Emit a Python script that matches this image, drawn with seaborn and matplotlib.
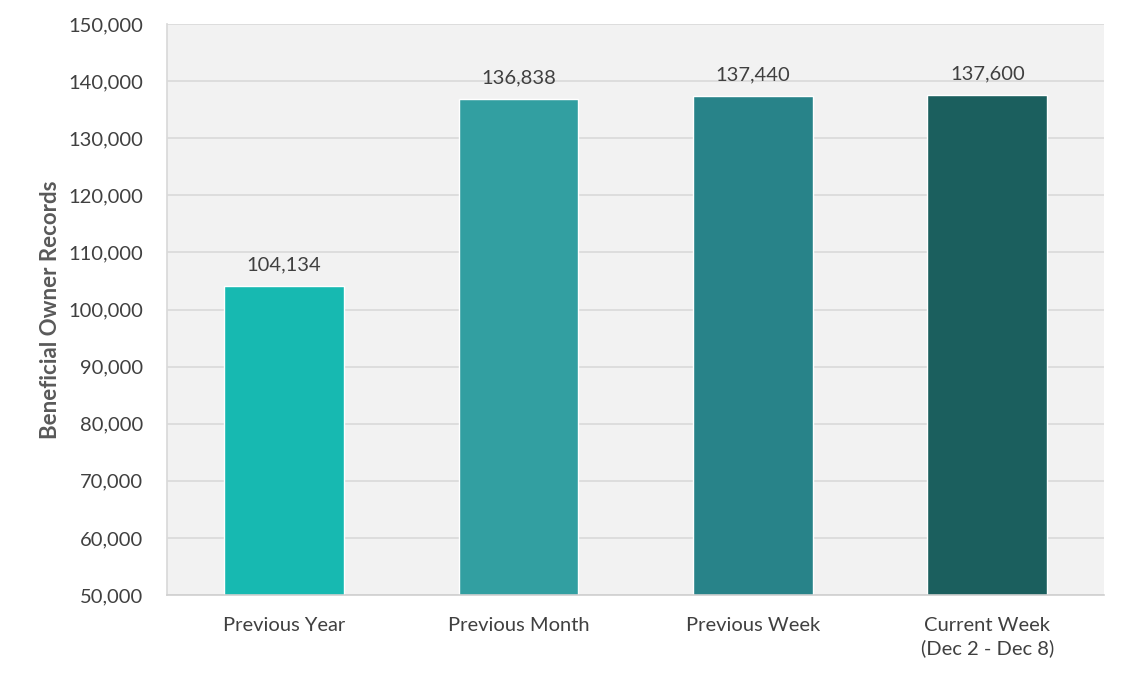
import matplotlib
matplotlib.use("Agg")
import matplotlib.pyplot as plt
import seaborn as sns
import pandas as pd
from matplotlib.ticker import FuncFormatter

categories = ["Previous Year", "Previous Month", "Previous Week", "Current Week\n(Dec 2 - Dec 8)"]
records = [104134, 136838, 137440, 137600]
bar_colors = ["#17B9B1", "#329FA1", "#288389", "#1B5F5E"]

sns.set_theme(style="white")
plt.rcParams["font.family"] = ["Lato", "DejaVu Sans"]

df = pd.DataFrame({"period": categories, "records": records})

fig = plt.figure(figsize=(11.27, 6.77), dpi=100)
ax = fig.add_axes([0.148, 0.121, 0.832, 0.8435])
ax.set_facecolor("#F2F2F2")

sns.barplot(data=df, x="period", y="records", hue="period", palette=bar_colors,
            legend=False, width=0.51, ax=ax, saturation=1)

ax.set_ylim(50000, 150000)
ax.set_yticks(range(50000, 150001, 10000))
ax.yaxis.set_major_formatter(FuncFormatter(lambda v, p: f"{int(v):,}"))
ax.grid(axis="y", color="#D9D9D9", linewidth=1.2)
ax.set_axisbelow(True)

for sp in ["top", "right"]:
    ax.spines[sp].set_visible(False)
ax.spines["left"].set_color("#D9D9D9")
ax.spines["bottom"].set_color("#D0D0D0")
ax.spines["bottom"].set_linewidth(1.2)

ax.tick_params(axis="y", length=7, color="#D9D9D9", labelsize=14.5, labelcolor="#404040", pad=10)
ax.tick_params(axis="x", length=0, labelsize=14.5, labelcolor="#404040", pad=16)
for lab in ax.get_xticklabels():
    lab.set_linespacing(1.3)

for patch, v in zip(ax.patches, records):
    ax.text(patch.get_x() + patch.get_width() / 2, v + 2200, f"{v:,}",
            ha="center", va="bottom", fontsize=14.5, color="#404040")

ax.set_xlabel("")
ax.set_ylabel("Beneficial Owner Records", fontsize=16, fontweight="bold", color="#595959", labelpad=5)

fig.savefig("out.png", dpi=100)
